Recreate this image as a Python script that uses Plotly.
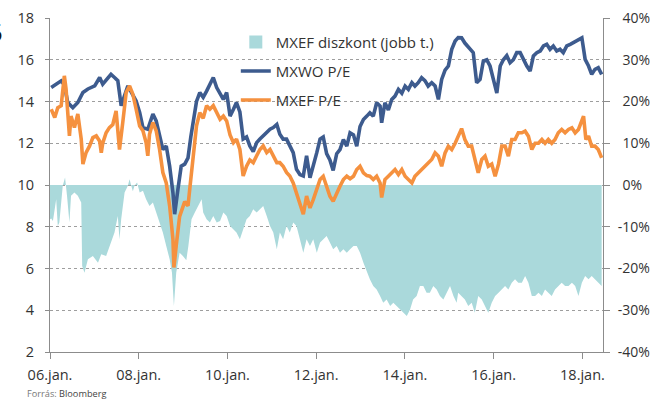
import plotly.graph_objects as go

# ---------------- data ----------------
mxwo_dates = [
    "2006-01-11", "2006-02-09", "2006-03-06", "2006-04-03", "2006-04-29", "2006-05-27", "2006-07-08",
    "2006-08-18", "2006-09-29", "2006-11-09", "2007-01-04", "2007-02-14", "2007-03-11", "2007-04-21",
    "2007-05-18", "2007-06-16", "2007-07-13", "2007-08-10", "2007-09-07", "2007-10-04", "2007-11-01",
    "2007-12-11", "2008-01-09", "2008-02-05", "2008-03-16", "2008-04-27", "2008-05-24", "2008-06-21",
    "2008-07-18", "2008-08-15", "2008-09-12", "2008-10-09", "2008-10-23", "2008-11-19", "2008-12-16",
    "2009-01-14", "2009-02-10", "2009-03-05", "2009-04-21", "2009-05-18", "2009-06-15", "2009-07-13",
    "2009-08-09", "2009-09-06", "2009-10-04", "2009-11-01", "2009-11-28", "2009-12-25", "2010-01-22",
    "2010-02-19", "2010-03-16", "2010-04-13", "2010-05-10", "2010-06-07", "2010-07-04", "2010-08-01",
    "2010-08-29", "2010-09-25", "2010-10-22", "2010-11-20", "2010-12-17", "2011-01-13", "2011-02-11",
    "2011-03-08", "2011-04-04", "2011-05-02", "2011-05-29", "2011-06-26", "2011-07-23", "2011-08-20",
    "2011-09-17", "2011-10-14", "2011-11-11", "2011-12-08", "2012-01-06", "2012-02-02", "2012-02-28",
    "2012-03-27", "2012-04-23", "2012-05-20", "2012-06-18", "2012-07-15", "2012-08-12", "2012-09-09",
    "2012-10-06", "2012-11-03", "2012-11-30", "2012-12-27", "2013-01-24", "2013-02-21", "2013-03-18",
    "2013-04-15", "2013-05-13", "2013-06-10", "2013-06-23", "2013-07-20", "2013-08-17", "2013-09-14",
    "2013-10-11", "2013-11-08", "2013-12-06", "2014-01-02", "2014-01-29", "2014-02-27", "2014-03-24",
    "2014-04-20", "2014-05-18", "2014-06-14", "2014-07-11", "2014-08-09", "2014-09-06", "2014-10-03",
    "2014-10-30", "2014-11-27", "2014-12-24", "2015-01-21", "2015-02-18", "2015-03-15", "2015-04-12",
    "2015-05-09", "2015-06-20", "2015-07-17", "2015-08-14", "2015-09-11", "2015-10-08", "2015-11-05",
    "2015-12-02", "2015-12-29", "2016-01-27", "2016-02-24", "2016-03-21", "2016-04-18", "2016-05-15",
    "2016-06-11", "2016-07-09", "2016-08-06", "2016-09-02", "2016-09-30", "2016-10-27", "2016-11-23",
    "2016-12-21", "2017-01-18", "2017-02-14", "2017-03-13", "2017-04-09", "2017-05-06", "2017-06-03",
    "2017-06-30", "2017-07-27", "2017-08-25", "2017-09-22", "2017-10-19", "2017-11-16", "2017-12-27",
    "2018-01-23", "2018-02-20", "2018-03-18", "2018-04-14", "2018-05-11", "2018-06-08",
]
mxwo_pe = [
    14.67, 14.8, 14.9, 14.99, 14.8, 13.95, 13.7,
    13.95, 14.43, 14.6, 14.75, 15.15, 14.83, 15.15,
    15.3, 15.15, 15.0, 13.8, 14.27, 14.75, 14.45,
    14.03, 13.47, 12.75, 12.67, 13.4, 13.07, 12.35,
    11.7, 11.87, 10.9, 9.63, 8.6, 9.8, 10.9,
    11.0, 11.3, 12.3, 14.0, 14.43, 14.2, 14.5,
    14.83, 15.15, 14.67, 14.35, 14.1, 14.43, 13.3,
    13.63, 13.95, 13.5, 12.2, 12.3, 11.87, 11.6,
    12.03, 12.2, 12.35, 12.5, 12.67, 12.75, 12.9,
    12.43, 12.2, 12.2, 11.87, 11.55, 10.75, 10.5,
    10.43, 11.4, 10.35, 10.9, 11.55, 12.2, 12.3,
    11.5, 11.2, 10.7, 11.5, 11.7, 12.18, 11.86,
    12.5, 12.4, 11.86, 12.8, 13.14, 13.3, 13.46,
    13.3, 13.94, 13.78, 12.98, 13.94, 13.6, 14.1,
    14.26, 14.58, 14.4, 14.74, 14.58, 14.9, 14.74,
    14.9, 15.14, 15.0, 14.74, 14.9, 14.74, 14.1,
    15.06, 15.5, 15.7, 16.5, 16.9, 17.06, 17.05,
    16.8, 16.5, 16.34, 14.9, 15.06, 15.94, 16.0,
    15.7, 15.06, 14.4, 15.7, 16.0, 16.2, 15.86,
    16.0, 16.34, 16.34, 16.0, 15.7, 15.46, 16.18,
    16.34, 16.42, 16.66, 16.74, 16.5, 16.66, 16.42,
    16.5, 16.34, 16.66, 16.74, 16.82, 16.9, 17.05,
    16.02, 15.7, 15.3, 15.54, 15.62, 15.3,
]

mxef_dates = [
    "2006-01-11", "2006-02-09", "2006-03-06", "2006-04-03", "2006-04-29", "2006-05-13", "2006-06-10",
    "2006-06-23", "2006-07-21", "2006-08-18", "2006-09-15", "2006-09-29", "2006-10-25", "2006-11-23",
    "2006-12-20", "2007-01-17", "2007-02-14", "2007-02-27", "2007-03-11", "2007-04-08", "2007-05-05",
    "2007-06-02", "2007-06-29", "2007-07-27", "2007-08-23", "2007-09-20", "2007-10-18", "2007-11-14",
    "2007-12-11", "2008-01-09", "2008-02-05", "2008-03-02", "2008-03-16", "2008-03-30", "2008-04-27",
    "2008-05-24", "2008-06-21", "2008-07-18", "2008-08-15", "2008-09-12", "2008-10-09", "2008-10-17",
    "2008-11-05", "2008-12-03", "2009-01-14", "2009-02-10", "2009-02-26", "2009-03-24", "2009-04-21",
    "2009-05-18", "2009-06-15", "2009-07-13", "2009-08-09", "2009-09-06", "2009-10-04", "2009-11-01",
    "2009-11-28", "2009-12-25", "2010-01-22", "2010-02-19", "2010-03-16", "2010-04-13", "2010-05-10",
    "2010-06-07", "2010-07-04", "2010-08-01", "2010-08-29", "2010-09-25", "2010-10-22", "2010-11-20",
    "2010-12-17", "2011-01-13", "2011-02-11", "2011-03-08", "2011-04-04", "2011-05-02", "2011-05-29",
    "2011-06-26", "2011-07-23", "2011-08-20", "2011-09-17", "2011-10-14", "2011-11-11", "2011-12-08",
    "2012-01-06", "2012-02-02", "2012-02-28", "2012-03-27", "2012-04-23", "2012-05-20", "2012-06-18",
    "2012-07-15", "2012-08-12", "2012-09-09", "2012-10-06", "2012-11-03", "2012-11-30", "2012-12-27",
    "2013-01-24", "2013-02-21", "2013-03-18", "2013-04-15", "2013-05-13", "2013-06-10", "2013-06-23",
    "2013-07-20", "2013-08-17", "2013-09-14", "2013-10-11", "2013-11-08", "2013-12-06", "2014-01-02",
    "2014-01-29", "2014-02-27", "2014-03-24", "2014-04-20", "2014-05-18", "2014-06-14", "2014-07-11",
    "2014-08-09", "2014-09-06", "2014-10-03", "2014-10-30", "2014-11-27", "2014-12-24", "2015-01-21",
    "2015-02-18", "2015-03-15", "2015-04-12", "2015-05-09", "2015-06-06", "2015-07-04", "2015-07-30",
    "2015-08-27", "2015-09-25", "2015-10-22", "2015-11-18", "2015-12-16", "2016-01-13", "2016-02-10",
    "2016-03-08", "2016-04-04", "2016-05-01", "2016-05-29", "2016-06-25", "2016-07-22", "2016-08-20",
    "2016-09-16", "2016-10-13", "2016-11-10", "2016-12-07", "2017-01-04", "2017-02-01", "2017-02-27",
    "2017-03-26", "2017-04-23", "2017-05-20", "2017-06-16", "2017-07-14", "2017-08-11", "2017-09-08",
    "2017-10-06", "2017-11-02", "2017-11-29", "2018-01-10", "2018-01-29", "2018-02-20", "2018-03-18",
    "2018-04-14", "2018-05-11", "2018-06-08",
]
mxef_pe = [
    13.63, 13.23, 13.7, 13.8, 15.23, 14.6, 12.35,
    13.3, 12.75, 13.4, 12.2, 11.0, 11.55, 11.87,
    12.27, 12.35, 12.1, 11.55, 12.0, 12.5, 12.75,
    12.9, 13.55, 11.7, 13.0, 14.43, 14.75, 14.35,
    13.63, 12.83, 12.6, 12.03, 11.4, 12.43, 13.0,
    12.6, 11.7, 10.6, 10.1, 9.0, 7.4, 6.05,
    7.1, 8.5, 9.2, 9.0, 9.9, 11.4, 12.83,
    13.47, 13.2, 13.8, 13.63, 13.8, 13.47, 13.15,
    13.3, 13.07, 12.4, 12.03, 12.2, 11.7, 10.43,
    10.9, 11.2, 11.07, 11.4, 11.7, 11.87, 11.55,
    11.7, 11.4, 11.07, 11.07, 10.9, 10.6, 10.43,
    10.1, 9.63, 9.15, 8.6, 9.47, 8.9, 9.3,
    9.8, 10.27, 10.42, 9.94, 9.46, 9.22, 9.62,
    9.94, 10.26, 10.42, 10.3, 10.42, 10.74, 10.9,
    10.58, 10.45, 10.42, 10.26, 10.42, 10.1, 9.4,
    10.26, 10.42, 10.58, 10.74, 10.5, 10.74, 10.42,
    10.26, 10.1, 10.42, 10.58, 10.74, 10.9, 11.06,
    11.22, 11.54, 11.38, 10.9, 11.54, 11.86, 11.7,
    12.0, 12.3, 12.7, 12.18, 11.86, 11.86, 11.22,
    10.58, 11.22, 11.38, 10.9, 11.0, 10.42, 11.0,
    11.86, 11.86, 11.38, 12.18, 12.18, 12.5, 12.5,
    12.58, 12.34, 11.7, 12.0, 12.0, 12.18, 12.0,
    12.18, 12.0, 12.18, 12.5, 12.66, 12.5, 12.66,
    12.74, 12.5, 12.66, 13.3, 12.18, 12.34, 11.86,
    11.86, 11.7, 11.3,
]

disc_dates = [
    "2006-01-01", "2006-01-11", "2006-01-25", "2006-02-21", "2006-03-06", "2006-03-19", "2006-04-16",
    "2006-05-05", "2006-05-21", "2006-06-10", "2006-06-23", "2006-07-21", "2006-08-18", "2006-09-15",
    "2006-09-23", "2006-10-12", "2006-11-09", "2006-12-20", "2007-01-31", "2007-02-27", "2007-04-08",
    "2007-05-18", "2007-06-16", "2007-07-13", "2007-07-27", "2007-08-10", "2007-09-07", "2007-10-04",
    "2007-10-18", "2007-11-01", "2007-11-14", "2007-11-28", "2007-12-19", "2008-01-09", "2008-02-05",
    "2008-03-02", "2008-03-30", "2008-04-27", "2008-05-24", "2008-06-21", "2008-07-18", "2008-08-15",
    "2008-09-12", "2008-10-01", "2008-10-17", "2008-11-05", "2008-12-03", "2008-12-30", "2009-01-27",
    "2009-02-13", "2009-03-11", "2009-04-07", "2009-05-05", "2009-06-02", "2009-06-15", "2009-07-13",
    "2009-08-09", "2009-09-06", "2009-10-04", "2009-11-01", "2009-11-28", "2009-12-25", "2010-01-22",
    "2010-02-19", "2010-03-16", "2010-04-13", "2010-05-10", "2010-06-07", "2010-07-04", "2010-08-01",
    "2010-08-29", "2010-09-25", "2010-10-22", "2010-11-20", "2010-12-17", "2011-01-13", "2011-02-11",
    "2011-03-08", "2011-04-04", "2011-05-02", "2011-05-29", "2011-06-26", "2011-07-23", "2011-08-20",
    "2011-09-17", "2011-10-14", "2011-11-11", "2011-12-08", "2012-01-06", "2012-02-02", "2012-02-28",
    "2012-03-27", "2012-04-23", "2012-05-20", "2012-06-18", "2012-07-15", "2012-08-12", "2012-09-09",
    "2012-10-06", "2012-11-03", "2012-11-30", "2012-12-27", "2013-01-24", "2013-02-21", "2013-03-18",
    "2013-04-15", "2013-05-13", "2013-06-10", "2013-07-06", "2013-08-03", "2013-09-01", "2013-09-27",
    "2013-10-25", "2013-11-21", "2013-12-18", "2014-01-16", "2014-02-12", "2014-03-09", "2014-04-07",
    "2014-05-04", "2014-06-01", "2014-06-28", "2014-07-25", "2014-08-22", "2014-09-19", "2014-10-16",
    "2014-11-13", "2014-12-11", "2015-01-07", "2015-02-04", "2015-03-02", "2015-03-15", "2015-04-12",
    "2015-05-09", "2015-06-06", "2015-07-04", "2015-07-30", "2015-08-27", "2015-09-25", "2015-10-22",
    "2015-11-18", "2015-12-16", "2016-01-13", "2016-02-10", "2016-03-08", "2016-04-04", "2016-05-01",
    "2016-05-29", "2016-06-25", "2016-07-22", "2016-08-20", "2016-09-16", "2016-10-13", "2016-11-10",
    "2016-12-07", "2017-01-04", "2017-02-01", "2017-02-27", "2017-03-26", "2017-04-23", "2017-05-20",
    "2017-06-16", "2017-07-14", "2017-08-11", "2017-09-08", "2017-10-06", "2017-11-02", "2017-11-29",
    "2017-12-27", "2018-01-23", "2018-02-20", "2018-03-18", "2018-04-14", "2018-05-11", "2018-06-08",
]
disc_pct = [
    -8.2, -8.0, -8.6, -3.4, -9.8, -9.0, -0.2,
    1.8, -2.6, -9.0, -2.6, -1.8, -2.6, -4.2,
    -19.4, -21.0, -17.8, -17.0, -18.6, -16.6, -17.0,
    -13.8, -11.4, -7.4, -13.0, -8.2, -1.8, -0.2,
    1.4, -0.2, -1.5, -0.2, 0.6, -1.8, -1.4,
    -3.4, -5.0, -4.2, -6.6, -9.0, -11.4, -14.6,
    -17.8, -21.0, -29.0, -21.0, -16.2, -17.0, -18.0,
    -14.6, -8.2, -6.6, -5.0, -3.4, -6.6, -8.2,
    -9.0, -7.4, -9.0, -8.6, -6.6, -7.4, -9.8,
    -10.6, -11.4, -13.0, -10.6, -8.2, -7.4, -5.8,
    -6.6, -5.8, -5.0, -7.4, -9.8, -11.4, -15.4,
    -11.4, -13.0, -9.8, -11.4, -9.0, -9.8, -13.0,
    -16.2, -13.0, -14.6, -13.0, -16.2, -13.8, -13.0,
    -12.2, -13.8, -15.4, -14.6, -16.2, -15.4, -16.2,
    -15.4, -14.6, -14.6, -16.2, -18.6, -21.0, -22.6,
    -24.2, -25.0, -26.6, -28.2, -27.4, -29.0, -28.2,
    -29.0, -29.8, -30.6, -31.4, -29.8, -27.4, -26.6,
    -24.2, -24.2, -25.8, -25.8, -24.2, -25.0, -26.6,
    -27.4, -25.8, -24.2, -26.6, -28.2, -25.8, -26.6,
    -27.4, -29.0, -28.2, -30.6, -26.6, -27.4, -29.0,
    -30.6, -28.2, -26.6, -25.8, -25.0, -24.2, -25.0,
    -23.4, -22.6, -23.4, -23.4, -21.8, -23.4, -26.6,
    -26.6, -25.8, -26.6, -25.0, -25.8, -26.6, -25.0,
    -24.2, -23.4, -24.2, -24.2, -23.4, -24.2, -26.6,
    -23.4, -21.8, -22.6, -21.8, -22.6, -23.4, -24.2,
]

x_tick_dates = ["2006-01-01", "2008-01-01", "2010-01-01", "2012-01-01",
                "2014-01-01", "2016-01-01", "2018-01-01"]
x_tick_text = ["06.jan.", "08.jan.", "10.jan.", "12.jan.", "14.jan.", "16.jan.", "18.jan."]
left_ticks = [2, 4, 6, 8, 10, 12, 14, 16, 18]
right_ticks = [-40, -30, -20, -10, 0, 10, 20, 30, 40]

names = ["MXEF diszkont (jobb t.)", "MXWO P/E", "MXEF P/E"]

# ---------------- styling ----------------
FONT = "Open Sans"
TXT = "#333333"
AXC = "#8c8c8c"
C_FILL = "#AAD9DB"
C_BLUE = "#3D5B8E"
C_ORANGE = "#F5913F"

# positive right-axis labels get a small leading space so they sit like the original
right_text = [(f"{v}%" if v < 0 else "\u2004" + f"{v}%") for v in right_ticks]

fig = go.Figure()

# area on the primary (percent, right-side) axis so the P/E lines draw above it
fig.add_trace(go.Scatter(
    x=disc_dates, y=disc_pct, yaxis="y", mode="lines",
    line=dict(width=0, color=C_FILL), fill="tozeroy", fillcolor=C_FILL,
    showlegend=False, hoverinfo="skip",
))
fig.add_trace(go.Scatter(
    x=[None], y=[None], yaxis="y", mode="markers", name=names[0],
    marker=dict(symbol="square", size=13, color=C_FILL), legendgroup="a",
))
fig.add_trace(go.Scatter(
    x=mxwo_dates, y=mxwo_pe, yaxis="y2", mode="lines", name=names[1],
    line=dict(color=C_BLUE, width=3.6), legendgroup="b",
))
fig.add_trace(go.Scatter(
    x=mxef_dates, y=mxef_pe, yaxis="y2", mode="lines", name=names[2],
    line=dict(color=C_ORANGE, width=3.6), legendgroup="c",
))

fig.update_layout(
    width=650, height=399,
    margin=dict(l=50, r=47, t=18, b=47, autoexpand=False),
    paper_bgcolor="white", plot_bgcolor="white",
    font=dict(family=FONT, size=14, color=TXT),
    hovermode=False,
    legend=dict(
        x=0.336, y=0.977, xanchor="left", yanchor="top",
        bgcolor="rgba(0,0,0,0)", borderwidth=0,
        font=dict(family=FONT, size=15, color=TXT),
        traceorder="grouped", tracegroupgap=6.5, itemwidth=30,
    ),
    xaxis=dict(
        type="date", range=["2006-01-01", "2018-06-19"], automargin=False,
        tickvals=x_tick_dates, ticktext=x_tick_text,
        showgrid=False, zeroline=False,
        showline=True, linecolor=AXC, linewidth=1,
        ticks="outside", ticklen=6, tickcolor=AXC,
        ticklabelstandoff=4,
        tickfont=dict(size=14.5, color=TXT),
    ),
    yaxis=dict(
        range=[-40, 40], tickvals=right_ticks, automargin=False,
        ticktext=right_text,
        side="right",
        showgrid=True, gridcolor="#9e9e9e", griddash="dot", gridwidth=1,
        zeroline=False, showline=True, linecolor=AXC, linewidth=1,
        ticks="outside", ticklen=6, tickcolor=AXC,
        ticklabelstandoff=5,
        tickfont=dict(size=14, color=TXT),
    ),
    yaxis2=dict(
        range=[2, 18], tickvals=left_ticks, automargin=False,
        overlaying="y", side="left",
        showgrid=False, zeroline=False, showline=True, linecolor=AXC, linewidth=1,
        ticks="outside", ticklen=4, tickcolor=AXC,
        ticklabelstandoff=8,
        tickfont=dict(size=14.5, color=TXT),
    ),
    annotations=[
        dict(text="5", xref="paper", yref="paper", x=-0.0814, y=0.958,
             xanchor="right", yanchor="middle", showarrow=False,
             font=dict(family=FONT, size=26, color="#111111")),
        dict(text="<span style='color:#777777'>Forrás:</span> Bloomberg",
             xref="paper", yref="paper", x=-0.0452, y=-0.1228,
             xanchor="left", yanchor="middle", showarrow=False,
             font=dict(family=FONT, size=9.2, color="#444444")),
    ],
)

# the page's default body margin would shift the 650x399 figure; remove it
fig.write_html(
    "out.html",
    config={"displayModeBar": False, "staticPlot": True},
    post_script="document.body.style.margin='0px';document.body.style.overflow='hidden';",
)
